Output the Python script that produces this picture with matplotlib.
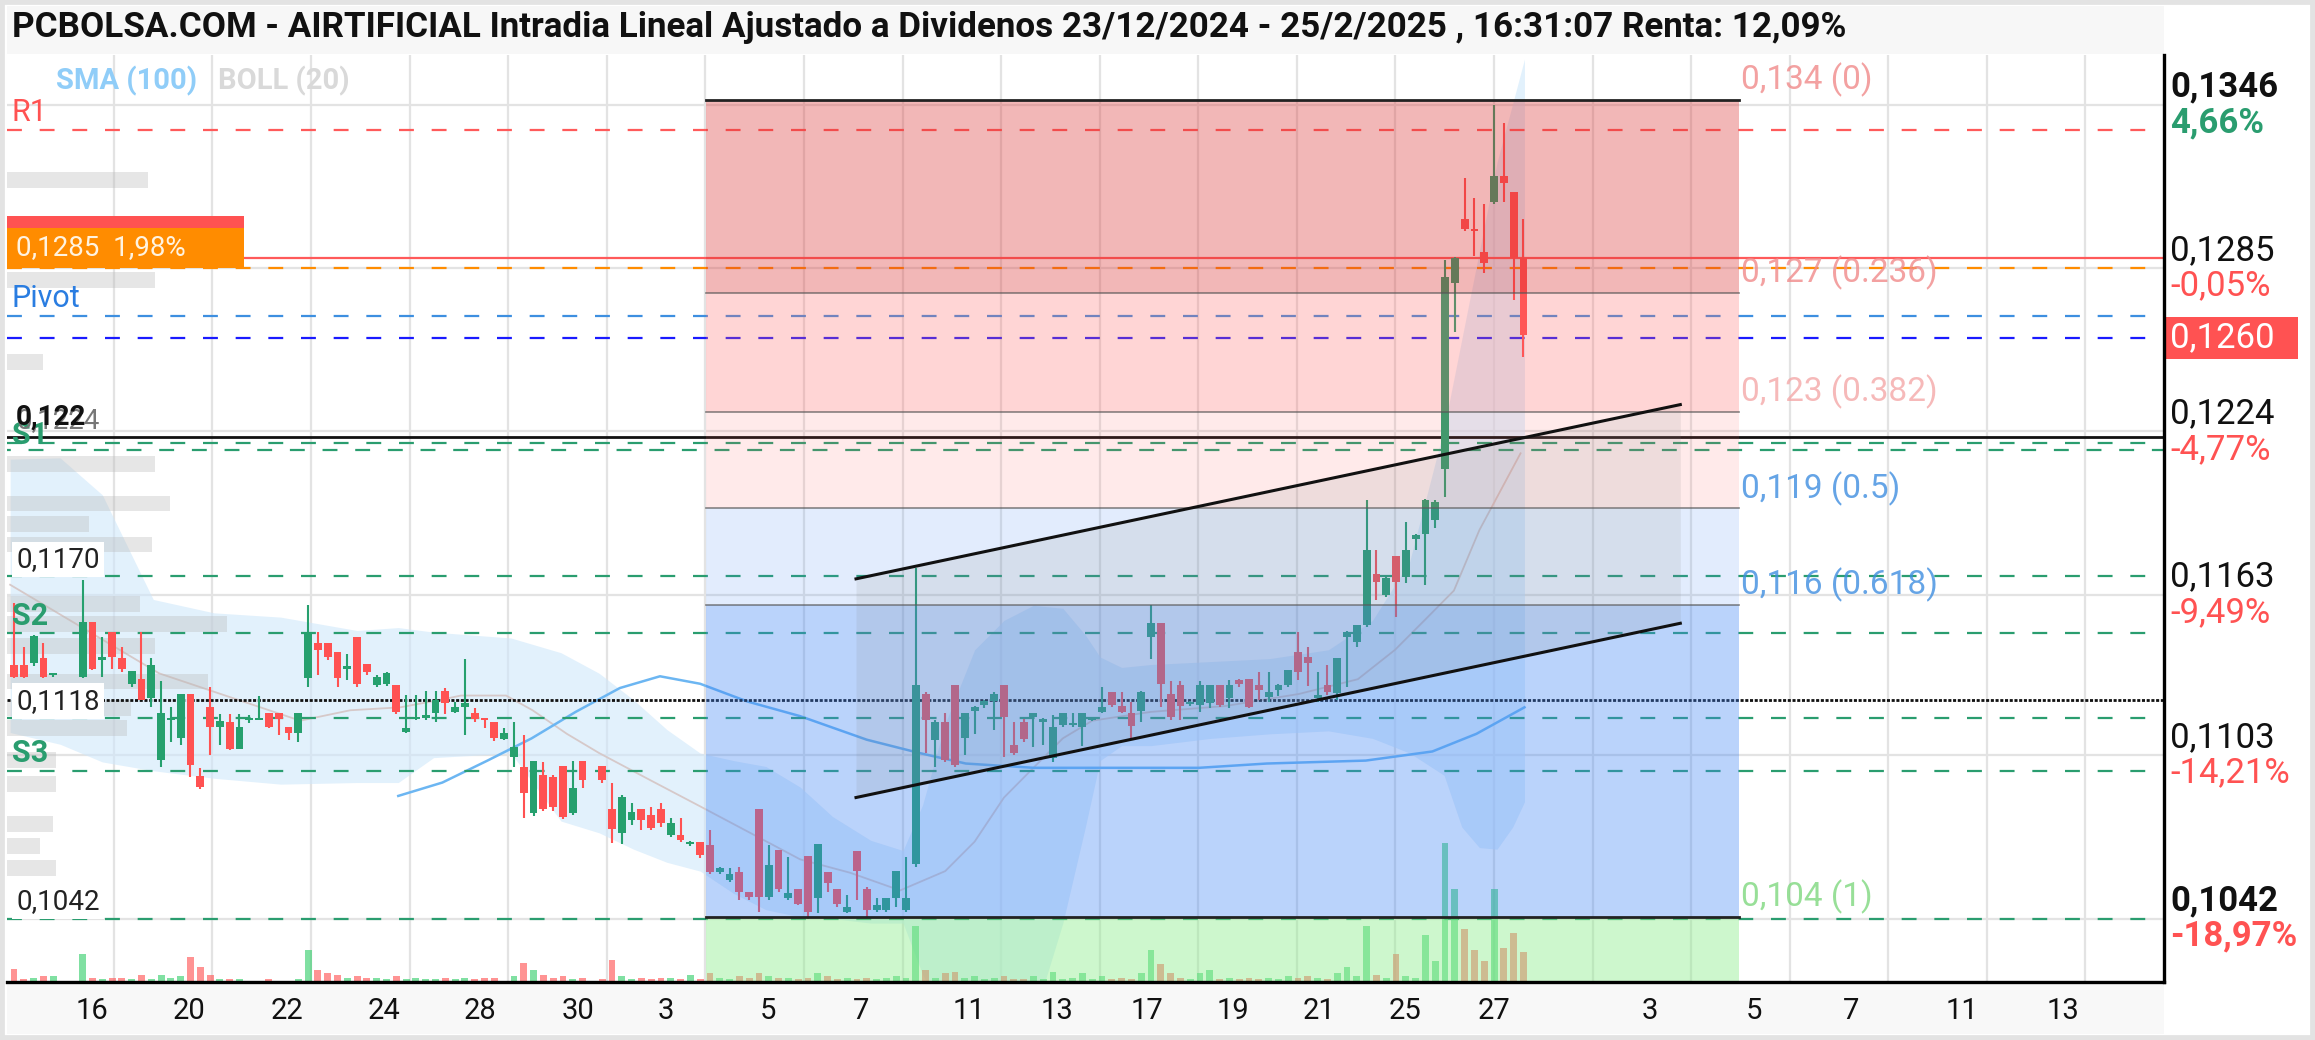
import numpy as np
import matplotlib
matplotlib.use("Agg")
import matplotlib.pyplot as plt
from matplotlib.patches import Rectangle
from matplotlib.transforms import blended_transform_factory

plt.rcParams['font.family'] = ['Roboto', 'DejaVu Sans']
nan = float('nan')

title = ("PCBOLSA.COM - AIRTIFICIAL Intradia Lineal Ajustado a Dividenos "
         "23/12/2024 - 25/2/2025 , 16:31:07 Renta: 12,09%")

# ---------------- candle data (one slot per bar, nan = empty slot) ----------------
opens = [.11367, .11367, .11373, .11392, .11328, nan, nan,
         .11323, .11529, .11385, .11491, .11392, .11296, .11313, .11242, .11014, .11161, .11093, .11257, .10952,
         .11211, .11136, .11155, .11055, .11162, .11162, .11189, .11189, .11134, .11114, .11317,
         .11448, .11448, .11416, .11354, .11473, .11370, .11292, .11298, .11292, .11118, .11164, .11168, .11186,
         .11271, .11192, .11211, .11189, .11167, .11155, .11089, .11024, .10987, .10813, .10956, .10949, .10989,
         .10813, .11009, nan,
         .10989, .10831, .10738,
         .10788, .10828, .10806, .10831, .10732, .10732, .10698, .10707, .10694, .10595, .10564, .10595, .10520,
         .10831, .10499, .10676, .10495, .10529, .10653, .10495, .10595, .10529, .10445, .10673, .10529, .10452,
         .10452, .10495, .10452, .10623,
         .11259, .11087, .11155, .11292, .11093, .11196, .11217, .11234, .11292, .11068, .11155, .11174, .11155,
         .11018, .11143, .11143, .11136, .11161, .11192, .11267, .11214, .11189, .11196, .11473, .11525, .11259,
         .11292, .11221, .11217,
         .11224, .11292, .11242, .11311, .11313, .11292, .11249, .11273, .11292, .11417, .11398, .11242, .11292,
         .11261, .11473, .11454, .11516, .11707, .11628, .11774, .11697, .11836, .11856, .11909,
         .12101, .12796, .13035, .12992, .12911, .13097, .13193, .13136, .12886]

highs = [.11597, .11433, .11479, .11448, .11333, nan, nan,
         .11684, .11529, .11473, .11491, .11433, .11346, .11491, .11392, .11308, .11211, .11257, .11257, .10984,
         .11286, .11184, .11184, .11184, .11180, .11251, .11189, .11189, .11134, .11189, .11591,
         .11491, .11448, .11416, .11410, .11473, .11370, .11329, .11340, .11292, .11255, .11255, .11271, .11271,
         .11283, .11229, .11388, .11205, .11167, .11155, .11130, .11155, .11105, .11009, .11006, .10956, .10989,
         .11009, .11009, nan,
         .10989, .10927, .10881,
         .10850, .10828, .10838, .10850, .10794, .10794, .10709, .10707, .10750, .10613, .10607, .10613, .10520,
         .10831, .10694, .10676, .10651, .10529, .10653, .10698, .10595, .10529, .10507, .10673, .10539, .10495,
         .10495, .10597, .10651, .11728,
         .11267, .11161, .11186, .11292, .11189, .11213, .11236, .11267, .11292, .11155, .11164, .11189, .11168,
         .11180, .11189, .11189, .11189, .11171, .11286, .11267, .11267, .11230, .11271, .11591, .11525, .11308,
         .11308, .11234, .11308,
         .11292, .11292, .11311, .11313, .11316, .11342, .11342, .11296, .11350, .11491, .11435, .11342, .11367,
         .11392, .11495, .11516, .11983, .11797, .11695, .11774, .11902, .11856, .11989, .11983,
         .12882, .12892, .13187, .13111, .13090, .13460, .13391, .13136, .13032]

lows = [.11317, .11320, .11363, .11317, .11323, nan, nan,
        .11320, .11348, .11323, .11354, .11342, .11286, .11236, .11211, .10987, .11080, .11068, .10950, .10902,
        .11031, .11068, .11049, .11052, .11149, .11161, .11130, .11105, .11086, .11080, .11286,
        .11329, .11385, .11286, .11311, .11286, .11329, .11286, .11288, .11184, .11114, .11161, .11161, .11155,
        .11184, .11186, .11105, .11155, .11130, .11084, .11086, .10987, .10794, .10803, .10823, .10823, .10790,
        .10806, .10906, nan,
        .10927, .10703, .10700,
        .10769, .10751, .10751, .10763, .10725, .10707, .10691, .10645, .10588, .10588, .10557, .10489, .10489,
        .10445, .10489, .10520, .10489, .10470, .10420, .10439, .10520, .10464, .10439, .10489, .10427, .10445,
        .10445, .10464, .10445, .10613,
        .11037, .10987, .11006, .10987, .11031, .11109, .11205, .11126, .11024, .11031, .11080, .11062, .11068,
        .11006, .11134, .11134, .11064, .11159, .11186, .11211, .11186, .11089, .11155, .11388, .11211, .11161,
        .11161, .11214, .11192,
        .11205, .11211, .11205, .11286, .11205, .11236, .11230, .11251, .11286, .11311, .11288, .11230, .11255,
        .11236, .11286, .11435, .11510, .11610, .11622, .11547, .11672, .11797, .11666, .11878,
        .11994, .12610, .12989, .12896, .12832, .13090, .13097, .12732, .12517]

closes = [.11323, .11323, .11475, .11323, .11331, nan, nan,
          .11529, .11351, .11398, .11398, .11351, .11346, .11236, .11367, .11189, .11164, .11257, .10993, .10912,
          .11136, .11159, .11055, .11134, .11165, .11166, .11136, .11167, .11114, .11189, .11491,
          .11423, .11398, .11317, .11360, .11298, .11342, .11323, .11336, .11192, .11130, .11174, .11180, .11236,
          .11224, .11211, .11224, .11167, .11161, .11093, .11112, .11062, .10890, .11009, .10831, .10837, .10800,
          .10909, .10937, nan,
          .10937, .10756, .10875,
          .10819, .10788, .10760, .10778, .10775, .10713, .10707, .10657, .10595, .10607, .10588, .10520, .10501,
          .10501, .10620, .10532, .10514, .10476, .10445, .10698, .10554, .10474, .10464, .10598, .10452, .10470,
          .10495, .10597, .10495, .11292,
          .11161, .11155, .11012, .10993, .11189, .11211, .11234, .11259, .11174, .11037, .11089, .11189, .11164,
          .11134, .11189, .11151, .11189, .11168, .11211, .11217, .11192, .11139, .11267, .11525, .11296, .11171,
          .11214, .11229, .11292,
          .11292, .11217, .11292, .11296, .11211, .11273, .11267, .11292, .11348, .11342, .11373, .11255, .11267,
          .11392, .11491, .11516, .11797, .11678, .11691, .11678, .11797, .11853, .11983, .11977,
          .12817, .12889, .12997, .12987, .12868, .13193, .13168, .12889, .12600]

volumes = [9, 2, 3, 4, 4, nan, nan,
           19, 3, 2, 3, 3, 2, 5, 2, 5, 3, 4, 17, 10, 5, 2, 2, 2, 1, 1, 2, 1, 1, 2, 22,
           8, 6, 5, 3, 4, 3, 3, 2, 4, 2, 3, 2, 2, 3, 2, 3, 2, 3, 3, 1, 4, 13, 8, 5, 3, 4, 2, 3, nan,
           2, 15, 4,
           2, 3, 2, 3, 3, 2, 5, 2, 6, 3, 2, 4, 3, 6, 4, 3, 3, 2, 3, 6, 4, 2, 3, 2, 3, 2, 3, 4, 3, 38,
           8, 3, 6, 7, 3, 4, 2, 3, 4, 2, 2, 4, 2, 7, 2, 3, 6, 2, 4, 2, 3, 2, 6, 22, 12, 6, 3, 2, 6,
           8, 2, 3, 2, 3, 2, 3, 2, 4, 3, 4, 3, 2, 6, 10, 4, 38, 5, 3, 19, 4, 3, 32, 14,
           94, 63, 36, 22, 14, 63, 23, 33, 20]

# Bollinger (20)
bb_x = [-0.4, 4.7, 9.0, 14.2, 20.4, 27.2, 35.0, 39.2, 42.8, 50.7, 55.8, 59.7, 63.2, 66.6, 70.0, 73.4, 76.7,
        80.2, 83.5, 87.4, 90.7, 92.7, 95.0, 98.0, 101.0, 104.0, 107.0, 109.3, 110.8, 113.0, 116.0, 122.1,
        128.1, 134.1, 138.6, 142.4, 145.9, 147.7, 149.5, 151.3, 152.9, 154.1]
bb_upper = [.12136, .12141, .12003, .11612, .11562, .11546, .11496, .11507, .11490, .11468, .11413, .11336,
            .11237, .11126, .11038, .11010, .10988, .10911, .10801, .10712, .10674, .10845, .11148, .11424,
            .11534, .11590, .11579, .11479, .11397, .11358, .11369, .11380, .11391, .11424, .11534, .11755,
            .12252, .12583, .12914, .13245, .13465, .13631]
bb_lower = [.11115, .11071, .11005, .10972, .10944, .10922, .10928, .10928, .11021, .11038, .10784, .10740,
            .10679, .10630, .10597, .10514, .10453, .10426, .10420, .10403, .10403, .10210, .10045, .09990,
            .09990, .10045, .10403, .10762, .11010, .11066, .11066, .11093, .11110, .11121, .11093, .11038,
            .10955, .10762, .10685, .10679, .10762, .10856]
bbm_x = [-0.4, 14.8, 29.2, 34.3, 39.4, 43.5, 45.6, 50.2, 52.9, 56.4, 59.7, 64.8, 70.0, 75.1, 80.2, 85.3,
         90.4, 95.0, 98.0, 101.0, 104.0, 107.0, 110.0, 116.0, 123.6, 131.1, 137.1, 140.9, 143.9, 146.9,
         149.5, 153.7]
bb_mid = [.11667, .11336, .11159, .11198, .11209, .11237, .11253, .11253, .11198, .11110, .11038, .10939,
          .10839, .10740, .10641, .10591, .10525, .10597, .10707, .10872, .10983, .11093, .11159, .11192,
          .11214, .11259, .11314, .11424, .11534, .11645, .11871, .12158]

# SMA (100)
sma_x = [39.2, 43.7, 48.3, 52.8, 57.3, 61.8, 65.9, 70.0, 74.8, 80.2, 87.0, 92.4, 97.1, 104.0, 120.9, 127.8,
         137.9, 144.7, 149.2, 154.1]
sma_100 = [.10878, .10928, .11010, .11093, .11192, .11281, .11325, .11297, .11231, .11176, .11088, .11038,
           .10999, .10983, .10983, .10999, .11010, .11044, .11110, .11209]

# volume profile (left side)
vp_price = [.13179, .12806, .12500, .12119, .11970, .11893, .11818, .11595, .11521, .11438, .11306, .11206,
            .11132, .11013, .10922, .10773, .10690, .10608]
vp_volume = [95, 100, 24, 100, 110, 55, 98, 90, 149, 100, 136, 84, 81, 33, 33, 31, 22, 33]

# x-axis labels
xtick_pos = [7.9, 17.85, 27.8, 37.7, 47.5, 57.5, 66.5, 76.9, 86.4, 97.4, 106.4, 115.6, 124.3, 133.1, 141.9,
             151.0, 166.9, 177.5, 187.4, 198.7, 209.0]
xtick_labels = ["16", "20", "22", "24", "28", "30", "3", "5", "7", "11", "13", "17", "19", "21", "25", "27",
                "3", "5", "7", "11", "13"]
grid_x = [10.2, 20.2, 30.3, 40.4, 50.4, 60.5, 70.5, 80.6, 90.7, 100.7, 110.8, 120.8, 130.9, 140.9, 151.0,
          161.1, 171.1, 181.2, 191.2, 201.3, 211.3]

# right axis
right_ticks = [0.1346, 0.1285, 0.1224, 0.1163, 0.1103, 0.1042]
right_labels = ["0,1346", "0,1285", "0,1224", "0,1163", "0,1103", "0,1042"]
right_pcts = ["4,66%", "-0,05%", "-4,77%", "-9,49%", "-14,21%", "-18,97%"]
last_price = 0.1259
last_label = "0,1260"

# Fibonacci retracement
fib_x = [70.6, 176.0]
fib_hi, fib_lo = 0.13478, 0.10426
fib_ratios = [0, 0.236, 0.382, 0.5, 0.618, 1]
fib_labels = ["0,134 (0)", "0,127 (0.236)", "0,123 (0.382)", "0,119 (0.5)", "0,116 (0.618)", "0,104 (1)"]

# trend channel
chan_x = [85.9, 170.0]
chan_upper = [0.11689, 0.12340]
chan_lower = [0.10872, 0.11523]

# pivot / support / resistance levels
r1 = 0.13366
prev_line = 0.12886
alert_level = 0.1285
pivot = 0.12671
black_level = 0.12219
s1 = [0.12197, 0.12169]
s2 = 0.11485
s3 = 0.10972
green_levels = [0.1170, 0.1117, 0.1042]
dotted_level = 0.11237

# ---------------- figure ----------------
W, H = 2315, 1040
fig = plt.figure(figsize=(W / 100, H / 100), dpi=100)
fig.patch.set_facecolor('white')
fig.add_artist(Rectangle((0, 0), 1, 1, transform=fig.transFigure, fill=False,
                         edgecolor='#e3e3e3', lw=7, zorder=0))
fig.add_artist(Rectangle((7 / W, 1 - 54 / H), (2164 - 7) / W, 48 / H, transform=fig.transFigure,
                         facecolor='#f7f7f7', edgecolor='none', zorder=0))
fig.add_artist(Rectangle((7 / W, 6 / H), (2164 - 7) / W, (H - 982 - 6) / H, transform=fig.transFigure,
                         facecolor='#f8f8f8', edgecolor='none', zorder=0))

ax = fig.add_axes([7.4 / W, 1 - 982 / H, (2164 - 7.4) / W, (982 - 54.6) / H])
ax.set_facecolor('none')
ymin, ymax = 0.101828, 0.136476
xmin, xmax = -0.68, 219.35
ax.set_xlim(xmin, xmax)
ax.set_ylim(ymin, ymax)

for s in ['top', 'left']:
    ax.spines[s].set_visible(False)
ax.spines['right'].set_linewidth(2.4)
ax.spines['bottom'].set_linewidth(2.4)
ax.spines['right'].set_zorder(10)
ax.spines['bottom'].set_zorder(10)
ax.set_yticks([])
ax.set_xticks(xtick_pos)
ax.set_xticklabels(xtick_labels, fontsize=21, color='#111111')
ax.tick_params(axis='x', length=0, pad=11)

bt = blended_transform_factory(ax.transAxes, ax.transData)

# grid
for gx in grid_x:
    ax.axvline(gx, color='#e3e3e3', lw=1.6, zorder=0.5)
for gy in right_ticks:
    ax.axhline(gy, color='#e3e3e3', lw=1.6, zorder=0.5)

# Bollinger band + middle, SMA
ax.fill_between(bb_x, bb_lower, bb_upper, color='#cfe8fb', alpha=0.6, lw=0, zorder=1)
ax.plot(bbm_x, bb_mid, color='#d6c9c9', lw=1.3, zorder=1.2)
ax.plot(sma_x, sma_100, color='#6cb6f2', lw=1.8, zorder=2)

# volume profile bars
slot_px = 6.64
ax.barh(vp_price, [v / slot_px for v in vp_volume], left=xmin, height=0.00058,
        color='#b8b8b8', alpha=0.35, lw=0, zorder=1.5)

# levels
dash = (0, (6.7, 8))
ax.axhline(r1, color='#ff5a5a', lw=1.6, ls=dash, zorder=2.5)
ax.axhline(prev_line, color='#ff5a5a', lw=1.6, zorder=2.5)
ax.axhline(alert_level, color='#ff8c00', lw=1.6, ls=dash, zorder=2.5)
ax.axhline(pivot, color='#3d8fe0', lw=1.6, ls=dash, zorder=2.5)
ax.axhline(last_price, color='#1a1aff', lw=1.6, ls=dash, zorder=2.5)
ax.axhline(black_level, color='#111111', lw=2.0, zorder=2.6)
ax.axhline(s1[0], color='#2a9d6f', lw=1.6, ls=dash, zorder=2.5)
ax.axhline(s1[1], color='#2a9d6f', lw=1.6, ls=(5, (6.7, 8)), zorder=2.5)
ax.axhline(s2, color='#2a9d6f', lw=1.6, ls=dash, zorder=2.5)
ax.axhline(s3, color='#2a9d6f', lw=1.6, ls=dash, zorder=2.5)
for gl in green_levels:
    ax.axhline(gl, color='#2a9d6f', lw=1.6, ls=dash, zorder=2.5)
ax.axhline(dotted_level, color='#111111', lw=2.0, ls=(0, (1.1, 0.6)), zorder=2.5)

# candles
o = np.array(opens); hi = np.array(highs); lo = np.array(lows); cl = np.array(closes)
vol = np.array(volumes, dtype=float)
xs = np.arange(len(cl))
ok = ~np.isnan(cl)
upc = cl >= o
green, red = '#26a06e', '#ff5252'
cols = np.where(upc, green, red)
ax.vlines(xs[ok], lo[ok], hi[ok], colors=cols[ok], lw=1.5, zorder=3)
body = np.maximum(np.abs(cl - o), 0.00008)
ax.bar(xs[ok], body[ok], bottom=np.minimum(o, cl)[ok], width=0.8, color=cols[ok], lw=0, zorder=3.1)

# volume bars
vscale = (ymax - ymin) / 628.0
vcols = np.where(upc, '#3cd070', '#ff5a5a')
ax.bar(xs[ok], vol[ok] * vscale, bottom=ymin, width=0.7, color=vcols[ok], alpha=0.65, lw=0, zorder=3)

# Fibonacci zones
levels = [fib_hi - r * (fib_hi - fib_lo) for r in fib_ratios]
zone_cols = [((220/255, 50/255, 50/255), 0.35), ((1, 100/255, 100/255), 0.27), ((1, 100/255, 100/255), 0.13),
             ((66/255, 133/255, 244/255), 0.15), ((66/255, 133/255, 244/255), 0.36)]
for i, (zc, za) in enumerate(zone_cols):
    ax.fill_between(fib_x, levels[i + 1], levels[i], color=zc, alpha=za, lw=0, zorder=4)
ax.fill_between(fib_x, ymin, levels[-1], color=(144/255, 238/255, 144/255), alpha=0.45, lw=0, zorder=4)
for i, lv in enumerate(levels):
    if i in (0, len(levels) - 1):
        ax.plot(fib_x, [lv, lv], color='#222222', lw=2.0, zorder=4.5)
    else:
        ax.plot(fib_x, [lv, lv], color='#555555', lw=1.2, alpha=0.7, zorder=4.5)
fib_cols = ['#f08a8a', '#f08a8a', '#f4a8a8', '#3f8ee0', '#3f8ee0', '#7fd87f']
for lv, lab, fc in zip(levels, fib_labels, fib_cols):
    ax.text(fib_x[1] + 0.2, lv + 0.0001, lab, color=fc, fontsize=24, alpha=0.8,
            va='bottom', ha='left', zorder=6)

# channel
ax.fill_between(chan_x, chan_lower, chan_upper, color='#808080', alpha=0.13, lw=0, zorder=5)
ax.plot(chan_x, chan_upper, color='#111111', lw=2.2, zorder=6)
ax.plot(chan_x, chan_lower, color='#111111', lw=2.2, zorder=6)

# left labels
lx = 0.002
ax.text(lx, r1 + 0.0001, "R1", transform=bt, color='#ff5252', fontsize=22, va='bottom', zorder=7)
ax.text(lx, pivot + 0.0001, "Pivot", transform=bt, color='#2a7de1', fontsize=22, va='bottom', zorder=7)
ax.text(lx, s1[1], "S1", transform=bt, color='#2a9d6f', fontsize=22, fontweight='bold', va='bottom', zorder=7)
ax.text(lx, s2 + 0.0001, "S2", transform=bt, color='#2a9d6f', fontsize=22, fontweight='bold', va='bottom', zorder=7)
ax.text(lx, s3 + 0.0001, "S3", transform=bt, color='#2a9d6f', fontsize=22, fontweight='bold', va='bottom', zorder=7)
ax.text(0.004, black_level + 0.0001, "0,1224", transform=bt, color='#777777', fontsize=20, va='bottom', zorder=7)
ax.text(0.004, black_level + 0.00024, "0,122", transform=bt, color='#111111', fontsize=20,
        fontweight='bold', va='bottom', zorder=7.1)
for lv, lab in zip([0.1170, 0.1117, 0.1042], ["0,1170", "0,1118", "0,1042"]):
    ax.text(0.004, lv + 0.00012, lab, transform=bt, color='#222222', fontsize=20, va='bottom', zorder=7,
            bbox=dict(facecolor='white', edgecolor='none', pad=3))

# alert box
ax.add_patch(Rectangle((0, alert_level), 0.1095, 0.00150, transform=bt, facecolor='#ff8c00',
                       edgecolor='none', zorder=7))
ax.add_patch(Rectangle((0, alert_level + 0.00150), 0.1095, 0.00045, transform=bt, facecolor='#ff5252',
                       edgecolor='none', zorder=7))
ax.text(0.004, alert_level + 0.00075, "0,1285  1,98%", transform=bt, color='#fff3e0', fontsize=20,
        va='center', zorder=8)

# right labels
rx = 1.003
for tv, tl, tp in zip(right_ticks, right_labels, right_pcts):
    bold = tl in (right_labels[0], right_labels[-1])
    ax.text(rx, tv + 0.00005, tl, transform=bt, fontsize=25, color='#111111', va='bottom', ha='left',
            fontweight='bold' if bold else 'normal', clip_on=False)
    pc = '#2a9d6f' if not tp.startswith('-') else '#ff5252'
    ax.text(rx, tv - 0.00005, tp, transform=bt, fontsize=25, color=pc, va='top', ha='left',
            fontweight='bold' if bold else 'normal', clip_on=False)
ax.add_patch(Rectangle((1.0008, last_price - 0.00078), 0.0612, 0.00156, transform=bt, facecolor='#ff5252',
                       edgecolor='none', clip_on=False, zorder=9))
ax.text(rx, last_price, last_label, transform=bt, fontsize=25, color='white', va='center', ha='left',
        clip_on=False, zorder=10)

# title and legend
fig.text(12 / W, 1 - 27 / H, title, fontsize=25.2, fontweight='bold', color='#111111', va='center', ha='left')
fig.text(56 / W, 1 - 81 / H, "SMA (100)", fontsize=21, fontweight='bold', color='#90cdf8', va='center')
fig.text(218 / W, 1 - 81 / H, "BOLL (20)", fontsize=21, fontweight='bold', color='#d9d9d9', va='center')

fig.savefig("out.png", dpi=100, facecolor='white')
